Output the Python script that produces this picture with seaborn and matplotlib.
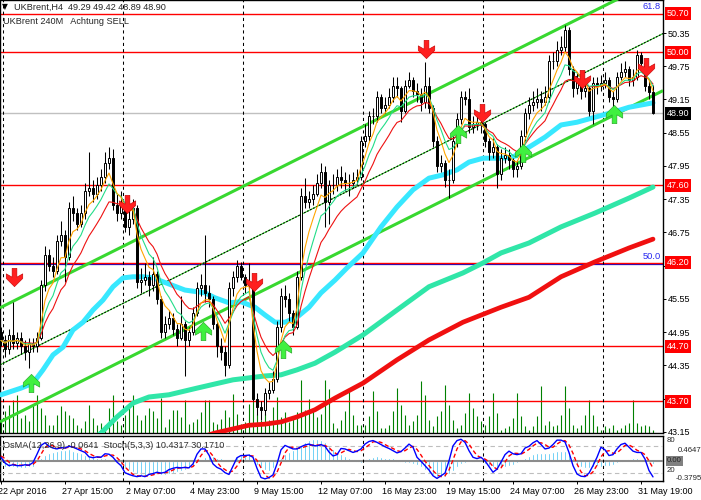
import numpy as np
import pandas as pd
import matplotlib
matplotlib.use("Agg")
import matplotlib.pyplot as plt
import matplotlib.transforms as mtrans
from matplotlib.path import Path
import seaborn as sns

sns.set_theme(style="ticks")
plt.rcParams['font.family'] = ['Liberation Sans', 'DejaVu Sans']
plt.rcParams['axes.unicode_minus'] = False

# ---------------- data (H4 candles, UKBrent) ----------------
opens = [44.95,44.80,44.65,44.90,44.75,44.85,44.70,44.60,44.75,44.70,
         44.85,45.80,46.35,46.15,46.05,46.60,46.70,46.30,47.20,47.10,
         46.90,47.10,47.50,47.55,47.45,47.60,47.75,48.00,48.10,47.25,
         47.10,47.25,46.85,47.00,47.20,45.85,45.90,45.95,45.80,46.00,
         45.55,44.95,45.10,45.20,45.00,44.85,45.10,44.80,44.95,45.30,
         45.75,45.80,45.65,45.55,45.10,44.70,44.60,44.35,45.75,45.95,
         46.15,45.95,45.80,45.85,43.75,43.60,43.55,43.85,43.90,44.10,
         45.05,45.60,45.55,45.30,45.05,45.95,47.40,47.30,47.35,47.45,
         47.65,47.85,47.30,47.60,47.60,47.75,47.70,47.65,47.65,47.70,
         47.75,48.40,48.50,48.85,48.85,49.20,49.00,49.05,49.20,49.40,
         49.35,48.95,49.40,49.50,49.30,49.25,49.10,49.40,49.00,48.40,
         47.95,48.00,47.70,47.70,48.40,48.80,49.20,49.15,48.65,48.70,
         48.75,48.70,48.40,48.20,48.30,47.80,48.10,48.15,48.05,47.90,
         47.95,48.50,48.90,49.05,49.10,49.15,49.10,49.20,49.85,49.85,
         50.05,50.10,50.40,49.70,49.35,49.50,49.30,49.35,48.95,49.45,
         49.40,49.45,49.50,49.20,49.15,49.55,49.65,49.70,49.50,49.55,
         49.95,49.80,49.40,49.29]
highs = [45.05,44.90,45.00,45.50,44.95,44.95,44.80,44.85,44.85,44.95,
         45.90,46.50,46.45,46.30,46.70,46.95,46.80,47.30,47.40,47.20,
         47.25,47.65,48.20,47.70,47.75,47.90,48.20,48.30,48.25,47.45,
         47.50,47.30,47.15,47.35,47.25,46.10,46.20,46.05,46.30,46.05,
         45.60,45.25,45.35,45.30,45.10,45.60,45.15,45.05,45.40,45.85,
         46.00,46.70,45.80,45.60,45.15,44.85,44.70,45.85,46.05,46.25,
         46.22,46.00,46.20,45.95,43.85,43.70,43.95,44.05,44.25,45.15,
         45.75,45.80,45.65,45.35,46.05,47.55,47.73,47.50,47.60,47.80,
         48.00,47.95,47.70,47.80,47.90,47.95,47.85,47.80,47.85,47.90,
         48.50,48.70,48.95,49.00,49.30,49.25,49.20,49.35,49.55,49.55,
         49.40,49.50,49.65,49.55,49.45,49.35,49.82,49.55,49.05,48.50,
         48.15,48.05,47.90,48.50,48.90,49.30,49.30,49.35,48.85,48.90,
         48.85,48.75,48.45,48.45,48.35,48.25,48.30,48.25,48.10,48.05,
         48.60,49.00,49.20,49.30,49.35,49.30,49.40,49.95,50.00,50.20,
         50.30,50.50,50.46,49.75,49.65,49.55,49.50,49.40,49.55,49.55,
         49.60,49.65,49.55,49.30,49.65,49.80,49.85,49.75,49.70,50.05,
         50.00,49.85,49.50,49.42]
lows = [44.70,44.50,44.55,44.65,44.65,44.55,44.45,44.30,44.60,44.60,
        44.80,45.70,46.05,45.95,46.00,46.50,45.85,46.25,46.95,46.80,
        46.85,47.00,47.40,47.30,47.35,47.50,47.65,47.90,47.15,46.95,
        47.00,46.75,46.70,46.90,45.75,45.65,45.80,45.60,45.70,45.45,
        44.85,44.85,45.00,44.90,44.70,44.80,44.15,44.70,44.90,45.25,
        45.60,45.50,45.40,45.00,44.50,44.45,44.15,44.30,45.60,45.85,
        45.90,45.65,45.70,43.70,43.45,43.36,43.45,43.75,43.85,44.05,
        44.95,45.40,45.15,44.90,45.00,45.90,47.20,47.20,47.25,47.40,
        47.55,46.85,46.90,47.45,47.50,47.55,47.50,47.40,47.55,47.60,
        47.70,48.30,48.40,48.70,48.75,48.90,48.90,49.00,49.10,49.20,
        48.75,48.90,49.35,49.20,49.10,48.95,49.00,48.90,48.30,47.85,
        47.85,47.57,47.37,47.65,48.30,48.70,49.05,48.55,48.55,48.60,
        48.55,48.30,48.05,48.10,47.55,47.70,48.00,47.90,47.75,47.75,
        47.90,48.40,48.80,48.95,49.00,48.95,49.05,49.10,49.70,49.75,
        49.95,50.00,49.60,49.20,49.25,49.15,49.20,48.85,48.70,49.25,
        49.30,49.35,49.10,49.00,49.10,49.50,49.55,49.40,49.40,49.50,
        49.70,49.30,49.15,48.89]
closes = [44.80,44.65,44.90,44.75,44.85,44.70,44.60,44.75,44.70,44.85,
          45.80,46.35,46.15,46.05,46.60,46.70,46.30,47.20,47.10,46.90,
          47.10,47.50,47.55,47.45,47.60,47.75,48.00,48.10,47.25,47.10,
          47.25,46.85,47.00,47.20,45.85,45.90,45.95,45.80,46.00,45.55,
          44.95,45.10,45.20,45.00,44.85,45.10,44.80,44.95,45.30,45.75,
          45.80,45.65,45.55,45.10,44.70,44.60,44.35,45.75,45.95,46.15,
          45.95,45.80,45.85,43.75,43.60,43.55,43.85,43.90,44.10,45.05,
          45.60,45.55,45.30,45.05,45.95,47.40,47.30,47.35,47.45,47.65,
          47.85,47.30,47.60,47.60,47.75,47.70,47.65,47.65,47.70,47.75,
          48.40,48.50,48.85,48.85,49.20,49.00,49.05,49.20,49.40,49.35,
          48.95,49.40,49.50,49.30,49.25,49.10,49.40,49.00,48.40,47.95,
          48.00,47.70,47.70,48.40,48.80,49.20,49.15,48.65,48.70,48.75,
          48.70,48.40,48.20,48.30,47.80,48.10,48.15,48.05,47.90,47.95,
          48.50,48.90,49.05,49.10,49.15,49.10,49.20,49.85,49.85,50.05,
          50.10,50.40,49.70,49.35,49.50,49.30,49.35,48.95,49.45,49.40,
          49.45,49.50,49.20,49.15,49.55,49.65,49.70,49.50,49.55,49.95,
          49.80,49.40,49.29,48.90]
volumes = [12,22,28,33,38,15,18,12,28,38, 25,18,8,8,18,27,22,18,15,8,
           5,12,28,15,8,10,8,25,38,12, 8,18,28,38,18,13,18,25,22,15, 35,
           6,14,23,23,16,33,9,11,14,21, 33,33,11,9,14,23,16,39,19,9,
           11,29,36,19,13,19,13,26,36,16, 21,11,16,21,53,23,34,24,16,19, 53,44,
           10,5,13,22,45,18,8,8,8,17, 42,22,5,5,8,22,45,28,18,8,
           12,18,52,38,13,7,17,22,48,28, 13,5,8,20,40,25,17,12,8,17, 40,
           20,3,5,7,15,40,17,7,3,7, 17,47,8,12,7,8,18,47,25,8,
           5,8,18,33,18,7,3,7,5,8, 3,5,8,10,33,10,7,8,7,3]

# long moving averages (bar index, price)
ma_cyan_bars = [0,5,8,10.5,13,15.5,18,20.5,23,25.5,28,30.5,33,35.5,38,40.5,46,51,53.5,57,
                60,63.5,66,68.5,71,74,77,80,83.5,86.5,90.5,95,99,103,107,110.5,114,117,120.5,125,
                128,132,136,140,144,148.5,153,157,163]
ma_cyan_vals = [43.82,43.94,44.03,44.27,44.54,44.68,44.99,45.13,45.35,45.53,45.77,45.93,45.95,45.95,45.93,
                45.86,45.71,45.66,45.57,45.48,45.50,45.40,45.26,45.13,45.13,45.22,45.40,45.66,45.89,46.11,
                46.38,46.85,47.21,47.52,47.73,47.79,47.88,48.02,48.09,48.09,48.11,48.29,48.47,48.69,48.74,
                48.83,48.92,49.01,49.09]
ma_aqua_bars = [22,25,29,33,37,42,49,58,66,70,74,78.5,83.5,90.5,99,107,115.5,120.5,125,132,140,148.5,157,163]
ma_aqua_vals = [42.95,43.13,43.42,43.67,43.78,43.82,43.94,44.09,44.16,44.18,44.27,44.39,44.59,44.90,
                45.35,45.77,46.02,46.20,46.38,46.56,46.85,47.10,47.37,47.57]
ma_red_bars = [50,53.5,62,66,70,74,78.5,83.5,90.5,99,107,115.5,125,132,140,148.5,157,163]
ma_red_vals = [43.05,43.13,43.27,43.29,43.33,43.42,43.55,43.76,44.03,44.45,44.81,45.13,45.40,45.58,
               45.95,46.22,46.47,46.63]

# channel (two anchor points each)
channel_bars = [-0.25, 165.5]
channel_upper = [45.39, 51.37]
channel_mid = [44.36, 50.34]
channel_lower = [43.33, 49.31]

red_levels = [50.70, 50.00, 47.60, 46.20, 44.70, 43.70]
bid_price = 48.90
fib_text = ["61.8", "50.0"]
fib_levels = [50.70, 46.20]
price_ticks = [50.35, 49.75, 49.15, 48.55, 47.95, 47.35, 46.75, 46.15, 45.55, 44.95, 44.35, 43.75, 43.15]
# labels at 46.15 and 43.75 sit under the 46.20 / 43.70 level boxes in the reference
price_tick_labels = ["50.35", "49.75", "49.15", "48.55", "47.95", "47.35", "46.75", "",
                     "45.55", "44.95", "44.35", "", "43.15"]

sell_bars = [3.25, 31.5, 63.25, 106.25, 120.25, 145.25, 161.25]
sell_prices = [45.95, 47.26, 45.86, 50.06, 48.91, 49.52, 49.74]
buy_bars = [7.5, 50.5, 70.5, 114.25, 130.5, 153.25]
buy_prices = [44.03, 44.97, 44.65, 48.53, 48.19, 48.89]

separator_bars = [0.5, 30.5, 60.5, 90.5, 120.5, 150.5]
time_tick_bars = [0, 16, 32, 48, 64, 80, 96, 112, 128, 144, 160]
time_tick_labels = ["22 Apr 2016", "27 Apr 15:00", "2 May 07:00", "4 May 23:00", "9 May 15:00",
                    "12 May 07:00", "16 May 23:00", "19 May 15:00", "24 May 07:00",
                    "26 May 23:00", "31 May 19:00"]

osma = [-0.08,-0.11,-0.125,-0.125,-0.13,-0.13,-0.13,-0.125,-0.11,
        -0.03,
        0.06,0.11,0.14,0.17,0.19,0.20,0.21,0.22,
        0.19,0.17,0.14,0.11,0.09,0.075,0.06,0.06,0.045,0.025,0.012,
        -0.04,-0.08,-0.14,-0.175,-0.21,-0.24,-0.27,-0.29,-0.27,-0.27,-0.25,-0.27,-0.27,-0.25,-0.225,-0.21,-0.19,-0.175,-0.14,-0.10,-0.05,
        0.01,0.075,0.11,0.09,0.06,0.045,0.012,-0.02,0.025,0.075,0.10,0.125,0.14,0.075,
        -0.08,-0.14,-0.175,-0.19,-0.14,-0.05,
        0.045,0.125,0.17,0.21,0.25,0.29,0.36,0.39,0.40,0.40,0.39,0.36,0.29,0.23,
        0.17,0.125,0.09,0.045,0.025,
        -0.02,-0.04,
        0.025,0.045,0.075,0.09,0.075,0.06,0.06,0.06,
        -0.02,-0.02,-0.04,-0.04,-0.06,-0.08,-0.11,-0.175,-0.225,-0.27,-0.30,-0.31,-0.30,-0.25,-0.19,-0.11,-0.06,-0.04,
        0.0,
        -0.02,0.012,-0.02,
        -0.06,-0.10,-0.125,-0.125,-0.11,-0.11,-0.10,-0.08,-0.05,-0.02,
        0.045,0.09,0.125,0.14,0.14,0.15,0.155,0.17,0.18,0.19,0.19,0.14,0.045,
        -0.08,-0.11,-0.14,-0.14,-0.125,-0.10,-0.11,-0.10,-0.10,-0.08,-0.05,-0.02,
        0.005,
        0.025,0.045,0.045,0.025,
        -0.02,-0.05,-0.0641]
stoch_main = [55,42,36,38,36,36,38,37,43,62,
              82,88,80,76,74,77,76,80,78,74,
              70,66,56,54,56,55,63,62,55,44,
              36,20,16,13,11,13,11,16,18,21,
              19,21,27,30,32,31,32,31,40,62,
              74,74,60,40,32,28,20,16,35,54,
              59,59,60,55,30,9,6,9,15,40,
              72,82,78,74,74,79,83,85,82,81,
              84,80,67,58,
              61,75,74,70,66,69,74,85,91,93,
              89,84,79,75,70,65,68,76,85,78,
              55,46,36,26,13,7,13,19,47,81,
              93,96,89,70,55,52,55,47,34,21,
              28,44,61,69,63,61,63,76,80,88,
              93,84,74,76,84,94,94,90,66,36,
              17,12,11,19,36,55,78,72,59,61,
              74,84,87,78,69,66,66,51,25,10.43]
stoch_signal = [58,52,44,39,37,37,37,37,39,47,
                62,77,83,81,77,76,76,78,78,77,
                74,70,64,59,55,55,58,60,60,54,
                45,33,24,16,13,12,12,13,15,18,
                19,20,22,26,30,31,32,31,34,44,
                59,70,69,58,44,33,27,21,24,35,
                49,57,59,58,48,31,15,8,10,21,
                42,65,77,78,75,76,79,82,83,83,
                82,82,77,68,62,65,70,73,70,68,
                70,76,83,90,91,89,84,79,75,70,
                68,70,76,80,73,60,46,36,25,15,
                11,13,26,49,74,90,93,85,71,59,
                54,51,45,34,28,31,44,58,64,64,
                62,67,73,81,87,88,84,78,78,85,
                91,93,83,64,40,22,13,14,22,37,
                56,68,70,64,65,73,82,83,78,71,
                67,61,47,30.17]

# ---------------- figure ----------------
W, H = 701, 500
fig = plt.figure(figsize=(W / 100, H / 100), dpi=100)
fig.patch.set_facecolor('white')

def fx(p):
    return p / W

def fy(p):
    return 1 - p / H

ax = fig.add_axes([0, fy(433), fx(663), 433 / H])
axo = fig.add_axes([0, fy(481), fx(663), 45 / H])
for a in (ax, axo):
    a.set_facecolor('white')
    for sp in a.spines.values():
        sp.set_visible(True)
        sp.set_color('black')
        sp.set_linewidth(1.0)

bars = np.arange(len(closes))
o = np.array(opens); h = np.array(highs); l = np.array(lows); c = np.array(closes)

ax.set_xlim(-0.25, 165.5)
ax.set_ylim(43.13, 50.946)

# horizontal levels
ax.axhline(46.20 - 0.018, color='#1010D0', lw=0.9, zorder=2)
for lv in red_levels:
    ax.axhline(lv, color='#FF0000', lw=1.0, zorder=2)
ax.axhline(bid_price, color='#C0C0C0', lw=1.0, zorder=2)

# week separators
for s in separator_bars:
    ax.axvline(s, color='black', lw=0.75, ls=(0, (3, 3)), zorder=2)
    axo.axvline(s, color='black', lw=0.75, ls=(0, (3, 3)), zorder=4)

# volumes
vtrans = mtrans.blended_transform_factory(ax.transData, ax.transAxes)
ax.vlines(bars, 0, np.array(volumes) / 433.0, transform=vtrans, color='#008000', lw=0.8, zorder=1)

# channel
green = '#38D830'
ax.plot(channel_bars, channel_upper, color=green, lw=2.2, zorder=3, solid_capstyle='butt')
ax.plot(channel_bars, channel_lower, color=green, lw=2.2, zorder=3, solid_capstyle='butt')
ax.plot(channel_bars, channel_mid, color=green, lw=0.8, zorder=3)
ax.plot(channel_bars, channel_mid, color='black', lw=0.8, ls=(0, (1.5, 1.5)), zorder=3)

# long moving averages
sns.lineplot(x=ma_red_bars, y=ma_red_vals, ax=ax, color='#F01010', lw=3.4, zorder=4,
             solid_capstyle='round')
sns.lineplot(x=ma_aqua_bars, y=ma_aqua_vals, ax=ax, color='#30E6A8', lw=3.6, zorder=4,
             solid_capstyle='round')
sns.lineplot(x=ma_cyan_bars, y=ma_cyan_vals, ax=ax, color='#38E8FF', lw=3.6, zorder=4,
             solid_capstyle='round')

# candles
up = c >= o
ax.vlines(bars, l, h, color='black', lw=0.75, zorder=5)
ax.bar(bars, np.abs(c - o), bottom=np.minimum(o, c), width=0.72,
       color=np.where(up, 'white', 'black'), edgecolor='black', linewidth=0.7, zorder=6)

# short moving averages
cs = pd.Series(closes)
sns.lineplot(x=bars, y=cs.ewm(span=13, adjust=False).mean().values, ax=ax, color='#EE1111', lw=0.8, zorder=7)
sns.lineplot(x=bars, y=cs.ewm(span=8, adjust=False).mean().values, ax=ax, color='#22DD88', lw=0.8, zorder=7)
sns.lineplot(x=bars, y=cs.ewm(span=5, adjust=False).mean().values, ax=ax, color='#FFA500', lw=0.8, zorder=7)

# signal arrows
down = Path([(-0.13, 0.5), (0.13, 0.5), (0.13, 0.02), (0.45, 0.2), (0.45, -0.05), (0, -0.5),
             (-0.45, -0.05), (-0.45, 0.2), (-0.13, 0.02), (-0.13, 0.5)], closed=True)
upa = Path([(x, -y) for x, y in down.vertices], closed=True)
ax.scatter(sell_bars, sell_prices, marker=down, s=175, c='#FF2020', edgecolors='#C00000',
           linewidths=0.4, zorder=9)
ax.scatter(buy_bars, buy_prices, marker=upa, s=175, c='#40F040', edgecolors='#20A020',
           linewidths=0.4, zorder=9)

# right price axis
ax.set_xticks([])
ax.yaxis.tick_right()
ax.set_yticks(price_ticks)
ax.set_yticklabels(price_tick_labels)
ax.tick_params(axis='y', length=2.2, width=0.7, pad=1.5, labelsize=6.5, colors='black', direction='out')
ax.set_xlabel(''); ax.set_ylabel('')

ytrans = mtrans.blended_transform_factory(ax.transAxes, ax.transData)
for lv in red_levels:
    ax.text(1.0058, lv, f"{lv:.2f}", transform=ytrans, ha='left', va='center', fontsize=6.5,
            color='white', clip_on=False, zorder=10,
            bbox=dict(boxstyle='square,pad=0.22', fc='#FF0000', ec='none'))
ax.text(1.0058, bid_price, f"{bid_price:.2f}", transform=ytrans, ha='left', va='center', fontsize=6.5,
        color='white', clip_on=False, zorder=10,
        bbox=dict(boxstyle='square,pad=0.22', fc='black', ec='none'))
for t, lv in zip(fib_text, fib_levels):
    ax.text(661 / 663, lv + 0.04, t, transform=ytrans, ha='right', va='bottom', fontsize=6.7,
            color='#2828F0', zorder=10)

# ---------------- oscillator panel ----------------
axo.set_xlim(-0.25, 165.5)
axo.set_ylim(-0.3795, 0.4647)
axo.bar(bars, osma, width=0.55, color='#1EB6F0', zorder=2)
axo.axhline(0, color='#8C8C8C', lw=1.5, zorder=3)
axo.set_yticks([])
axo.set_xticks(time_tick_bars)
axo.set_xticklabels(time_tick_labels, fontsize=6.5, ha='left')
axo.tick_params(axis='x', length=2.2, width=0.7, pad=2, direction='out', colors='black')
shift = mtrans.ScaledTranslation(-2.5 / 100, 0, fig.dpi_scale_trans)
for lbl in axo.get_xticklabels():
    lbl.set_transform(lbl.get_transform() + shift)

axs = axo.twinx()
axs.set_ylim(1.1, 103.4)
axs.axhline(80, color='#BEBEBE', lw=0.8, ls=(0, (4, 3)), zorder=2)
axs.axhline(20, color='#BEBEBE', lw=0.8, ls=(0, (4, 3)), zorder=2)
sns.lineplot(x=bars, y=stoch_main, ax=axs, color='#0000FF', lw=1.0, zorder=5)
axs.plot(bars, stoch_signal, color='#FF0000', lw=1.0, ls=(0, (3, 2)), zorder=4)
axs.set_yticks([])
axs.set_ylabel('')
for sp in axs.spines.values():
    sp.set_visible(False)

# ---------------- texts ----------------
fs = 6.6
fig.text(fx(2), fy(7), "\u25BC", fontsize=5.5, va='center', ha='left', color='black',
         family=['DejaVu Sans'])
fig.text(fx(14), fy(7), "UKBrent,H4  49.29 49.42 48.89 48.90", fontsize=fs, va='center', ha='left')
fig.text(fx(3), fy(22), "UKBrent 240M   Achtung SELL", fontsize=fs, va='center', ha='left')
fig.text(fx(3), fy(446), "OsMA(12,26,9) -0.0641  Stoch(5,3,3) 10.4317 30.1710", fontsize=fs,
         va='center', ha='left', color='#303030')

sfs = 5.6
fig.text(fx(667), fy(441), "80", fontsize=sfs, va='center', ha='left')
fig.text(fx(678), fy(450), "0.4647", fontsize=sfs, va='center', ha='left')
fig.text(fx(667), fy(461), "0.00", fontsize=sfs, va='center', ha='left',
         bbox=dict(boxstyle='square,pad=0.18', fc='#808080', ec='none'))
fig.text(fx(667), fy(471), "20", fontsize=sfs, va='center', ha='left')
fig.text(fx(676), fy(479), "-0.3795", fontsize=sfs, va='center', ha='left')

fig.savefig("out.png", dpi=100, facecolor='white')
